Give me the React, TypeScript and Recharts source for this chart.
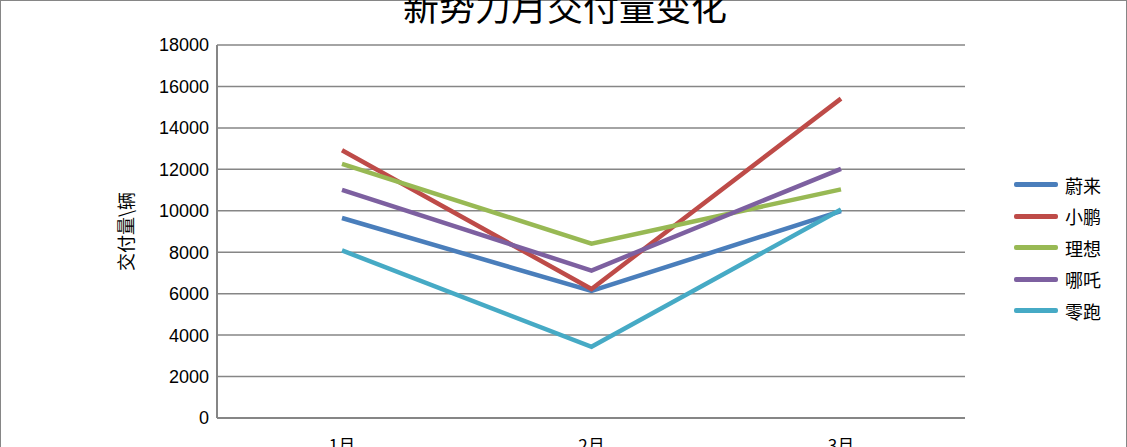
import React from 'react'
import { LineChart, Line, XAxis, YAxis, CartesianGrid } from 'recharts'

const months = ['1月', '2月', '3月']
const nio = [9652, 6131, 9985]
const xpeng = [12922, 6225, 15414]
const lixiang = [12268, 8414, 11034]
const neta = [11009, 7117, 12026]
const leapmotor = [8085, 3435, 10059]
const yTicks = [0, 2000, 4000, 6000, 8000, 10000, 12000, 14000, 16000, 18000]

const series = [
  { key: '蔚来', values: nio, color: '#4A7EBB' },
  { key: '小鹏', values: xpeng, color: '#BE4B48' },
  { key: '理想', values: lixiang, color: '#98B954' },
  { key: '哪吒', values: neta, color: '#7D60A0' },
  { key: '零跑', values: leapmotor, color: '#46AAC5' }
]

const data = months.map((m, i) => {
  const row: Record<string, string | number> = { month: m }
  series.forEach((s) => {
    row[s.key] = s.values[i]
  })
  return row
})

const cjk = '"Noto Sans CJK SC", "Noto Sans", sans-serif'

function LegendBox() {
  return (
    <div
      style={{
        position: 'absolute',
        left: 1014,
        top: 169,
        fontFamily: cjk,
        fontSize: 18,
        color: '#000'
      }}
    >
      {series.map((s) => (
        <div
          key={s.key}
          style={{ display: 'flex', alignItems: 'center', height: 31.5 }}
        >
          <span
            style={{
              display: 'inline-block',
              width: 44,
              height: 5,
              borderRadius: 2,
              background: s.color,
              marginRight: 7
            }}
          />
          <span>{s.key}</span>
        </div>
      ))}
    </div>
  )
}

export default function App() {
  return (
    <div
      style={{
        position: 'absolute',
        left: 0,
        top: 0,
        width: 1127,
        height: 447,
        background: '#fff',
        overflow: 'hidden'
      }}
    >
      <div
        style={{
          position: 'absolute',
          left: 0,
          top: 0,
          width: 1125,
          height: 460,
          border: '1px solid #868686'
        }}
      />
      <svg
        width={1127}
        height={40}
        style={{ position: 'absolute', left: 0, top: 0 }}
      >
        <text
          x={565}
          y={21}
          textAnchor="middle"
          fontFamily={cjk}
          fontSize={36}
          fill="#000"
        >
          新势力月交付量变化
        </text>
      </svg>
      <LineChart
        width={1127}
        height={447}
        data={data}
        margin={{ top: 45, right: 162, bottom: 0, left: 0 }}
        style={{ position: 'absolute', left: 0, top: 0 }}
      >
        <CartesianGrid vertical={false} stroke="#868686" strokeWidth={1.5} />
        <XAxis
          dataKey="month"
          height={29}
          padding={{ left: 125, right: 124 }}
          axisLine={{ stroke: '#868686', strokeWidth: 2 }}
          tickLine={false}
          tick={{ fontFamily: cjk, fontSize: 17, fill: '#000', dy: 14 }}
        />
        <YAxis
          width={217}
          domain={[0, 18000]}
          ticks={yTicks}
          interval={0}
          axisLine={{ stroke: '#868686', strokeWidth: 2 }}
          tickLine={false}
          tick={{
            fontFamily: '"Liberation Sans", Arial, sans-serif',
            fontSize: 18,
            fill: '#000'
          }}
          label={{
            value: '交付量\\辆',
            angle: -90,
            position: 'insideLeft',
            dx: 122,
            style: {
              fontFamily: cjk,
              fontSize: 18,
              fill: '#000',
              textAnchor: 'middle'
            }
          }}
        />
        {series.map((s) => (
          <Line
            key={s.key}
            dataKey={s.key}
            stroke={s.color}
            strokeWidth={4.5}
            dot={false}
            activeDot={false}
            isAnimationActive={false}
          />
        ))}
      </LineChart>
      <LegendBox />
    </div>
  )
}
